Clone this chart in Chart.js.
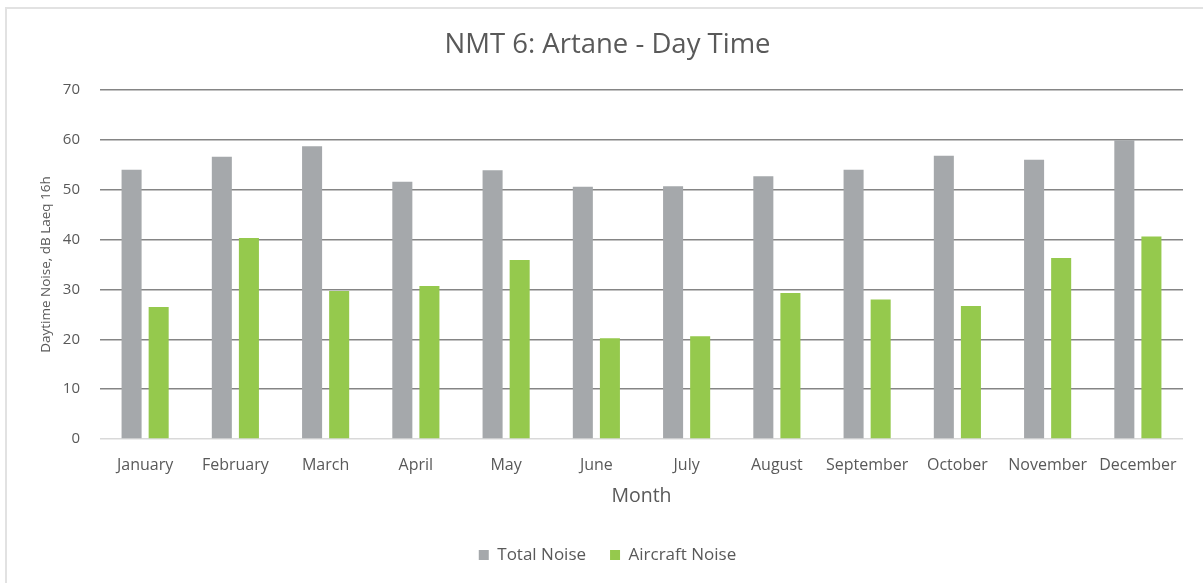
<!DOCTYPE html>
<html>
<head>
<meta charset="utf-8">
<script src="https://cdn.jsdelivr.net/npm/chart.js@4"></script>
<style>
  html, body { margin: 0; padding: 0; background: #fff; overflow: hidden; }
  #frame { position: absolute; left: 5px; top: 7px; width: 1300px; height: 700px;
           border-left: 2px solid #e2e2e2; border-top: 2px solid #e2e2e2; }
  #wrap { position: absolute; left: 0; top: 0; width: 1203px; height: 583px; }
</style>
</head>
<body>
<div id="frame"></div>
<div id="wrap"><canvas id="noiseChart"></canvas></div>
<script>
const months = ['January', 'February', 'March', 'April', 'May', 'June', 'July',
    'August', 'September', 'October', 'November', 'December'];
const totalNoise = [54.0, 56.6, 58.7, 51.6, 53.9, 50.6, 50.7, 52.7, 54.0, 56.8, 56.0, 59.9];
const aircraftNoise = [26.5, 40.3, 29.7, 30.7, 35.9, 20.2, 20.6, 29.3, 28.0, 26.7, 36.3, 40.6];
const yTicks = [0, 10, 20, 30, 40, 50, 60, 70];

const textColor = '#595959';
const fontName = "'Open Sans', sans-serif";

Chart.defaults.font.family = fontName;
Chart.defaults.color = textColor;

const ctx = document.getElementById('noiseChart');

let noiseChart = new Chart(ctx, {
    type: 'bar',
    data: {
        labels: months,
        datasets: [{
            label: 'Total Noise',
            data: totalNoise,
            backgroundColor: '#a5a8ab',
            categoryPercentage: 0.6,
            barPercentage: 0.74
        }, {
            label: 'Aircraft Noise',
            data: aircraftNoise,
            backgroundColor: '#95c94d',
            categoryPercentage: 0.6,
            barPercentage: 0.74
        }]
    },
    options: {
        responsive: true,
        maintainAspectRatio: false,
        animation: false,
        layout: {
            padding: { top: 10, right: 20, bottom: 9.5, left: 32 }
        },
        plugins: {
            title: {
                display: true,
                text: 'NMT 6: Artane - Day Time',
                color: textColor,
                font: { size: 27.5, weight: 'normal' },
                padding: { top: 19, bottom: 28 }
            },
            legend: {
                position: 'bottom',
                labels: {
                    boxWidth: 10,
                    boxHeight: 10,
                    color: textColor,
                    font: { size: 17 },
                    padding: 24
                }
            },
            tooltip: { enabled: false }
        },
        scales: {
            x: {
                grid: { display: false, drawTicks: false },
                border: { display: false },
                ticks: {
                    color: textColor,
                    font: { size: 16 },
                    padding: 17,
                    maxRotation: 0,
                    autoSkip: false
                },
                title: {
                    display: true,
                    text: 'Month',
                    color: textColor,
                    font: { size: 19.5 },
                    padding: { top: 0, bottom: 14 }
                },
                afterFit: (scale) => { scale.height = 83.5; }
            },
            y: {
                min: 0,
                max: 70,
                afterBuildTicks: (scale) => {
                    scale.ticks = yTicks.map(v => ({ value: v }));
                },
                grid: {
                    drawTicks: false,
                    lineWidth: 1.5,
                    color: (c) => c.tick && c.tick.value === 0 ? '#d9d9d9' : '#858585'
                },
                border: { display: false },
                ticks: {
                    color: textColor,
                    font: { size: 15 },
                    padding: 20
                },
                title: {
                    display: true,
                    text: 'Daytime Noise, dB Laeq 16h',
                    color: textColor,
                    font: { size: 13.5 },
                    padding: { top: 6, bottom: 0 }
                },
                afterFit: (scale) => { scale.width = 68; }
            }
        }
    }
});
</script>
</body>
</html>
